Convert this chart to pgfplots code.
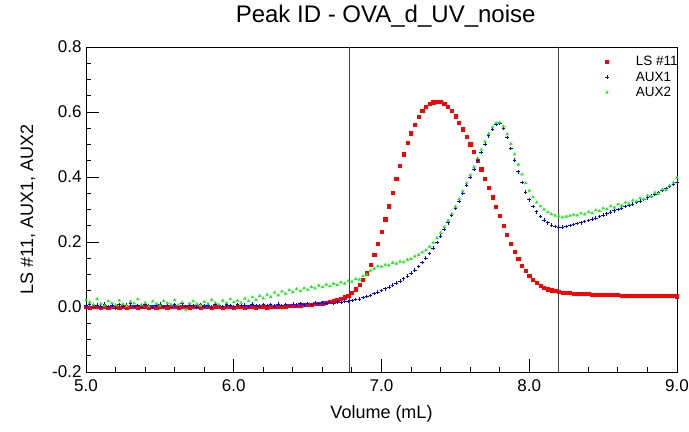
\documentclass[border=0pt]{standalone}
\usepackage{pgfplots}
\pgfplotsset{compat=1.18}
\usepackage{pgfplotstable}
\usepackage{fontspec}
\setmainfont{Liberation Sans}
\pgfplotstableread{
x ls aux1 aux2
5.000 0.001 0.004 0.022
5.025 -0.002 0.008 0.015
5.050 0.000 -0.002 0.008
5.075 0.002 0.006 0.025
5.100 -0.001 0.003 0.010
5.125 0.001 0.009 0.004
5.150 -0.003 0.001 0.018
5.175 0.000 0.005 0.012
5.200 0.002 -0.003 0.006
5.225 -0.001 0.007 0.020
5.250 0.001 0.002 0.009
5.275 -0.002 0.006 0.003
5.300 0.000 0.010 0.016
5.325 0.001 0.001 0.011
5.350 -0.002 0.005 0.024
5.375 0.000 -0.001 0.007
5.400 0.002 0.008 0.013
5.425 -0.001 0.004 0.002
5.450 0.001 0.000 0.017
5.475 -0.002 0.006 0.010
5.500 0.000 0.009 0.005
5.525 0.002 0.002 0.019
5.550 -0.001 0.005 0.012
5.575 0.000 -0.002 0.008
5.600 0.001 0.007 0.021
5.625 -0.002 0.003 0.006
5.650 0.000 0.010 0.014
5.675 0.002 0.001 -0.008
5.700 -0.001 0.006 0.011
5.725 0.000 0.004 0.018
5.750 0.001 -0.001 0.009
5.775 -0.002 0.008 0.004
5.800 0.000 0.003 0.016
5.825 0.002 0.006 0.010
5.850 -0.001 0.000 0.022
5.875 0.000 0.009 0.013
5.900 0.001 0.004 0.007
5.925 -0.002 0.002 0.019
5.950 0.000 0.007 0.012
5.975 0.002 0.005 0.024
6.000 -0.001 0.001 0.015
6.025 0.000 0.008 0.020
6.050 0.001 0.004 0.013
6.075 -0.002 0.006 0.026
6.100 0.000 0.002 0.018
6.125 0.002 0.009 0.030
6.150 -0.001 0.005 0.022
6.175 0.000 0.003 0.034
6.200 0.001 0.007 0.027
6.225 -0.001 0.004 0.038
6.250 0.001 0.008 0.031
6.275 0.000 0.003 0.044
6.300 0.002 0.009 0.036
6.325 0.001 0.005 0.048
6.350 0.002 0.007 0.041
6.375 0.003 0.004 0.052
6.400 0.003 0.009 0.046
6.425 0.004 0.006 0.055
6.450 0.005 0.010 0.049
6.475 0.006 0.007 0.058
6.500 0.007 0.011 0.053
6.525 0.008 0.008 0.062
6.550 0.009 0.012 0.057
6.575 0.011 0.010 0.066
6.600 0.012 0.013 0.061
6.625 0.014 0.011 0.069
6.650 0.016 0.014 0.064
6.675 0.018 0.012 0.072
6.700 0.021 0.016 0.068
6.725 0.025 0.014 0.076
6.750 0.030 0.018 0.072
6.775 0.036 0.017 0.080
6.800 0.044 0.020 0.078
6.825 0.055 0.023 0.086
6.850 0.068 0.025 0.084
6.875 0.084 0.029 0.095
6.900 0.104 0.032 0.100
6.925 0.130 0.036 0.112
6.950 0.160 0.041 0.118
6.975 0.195 0.046 0.126
7.000 0.232 0.051 0.124
7.025 0.270 0.056 0.130
7.050 0.310 0.061 0.128
7.075 0.352 0.067 0.136
7.100 0.395 0.073 0.133
7.125 0.435 0.080 0.140
7.150 0.470 0.087 0.138
7.175 0.505 0.095 0.146
7.200 0.535 0.104 0.148
7.225 0.562 0.114 0.156
7.250 0.585 0.125 0.160
7.275 0.603 0.137 0.168
7.300 0.616 0.150 0.175
7.325 0.625 0.165 0.186
7.350 0.630 0.181 0.198
7.375 0.632 0.199 0.212
7.400 0.631 0.218 0.228
7.425 0.626 0.238 0.246
7.450 0.617 0.259 0.266
7.475 0.603 0.281 0.287
7.500 0.587 0.303 0.309
7.525 0.568 0.326 0.332
7.550 0.547 0.350 0.356
7.575 0.525 0.374 0.381
7.600 0.501 0.399 0.406
7.625 0.477 0.424 0.432
7.650 0.451 0.450 0.458
7.675 0.424 0.476 0.484
7.700 0.396 0.502 0.509
7.725 0.367 0.527 0.533
7.750 0.338 0.548 0.553
7.775 0.309 0.563 0.566
7.800 0.280 0.565 0.568
7.825 0.251 0.550 0.556
7.850 0.223 0.522 0.532
7.875 0.196 0.488 0.502
7.900 0.171 0.452 0.470
7.925 0.148 0.416 0.438
7.950 0.128 0.383 0.408
7.975 0.111 0.354 0.381
8.000 0.096 0.330 0.358
8.025 0.084 0.309 0.338
8.050 0.074 0.293 0.322
8.075 0.066 0.279 0.310
8.100 0.060 0.268 0.300
8.125 0.055 0.259 0.292
8.150 0.052 0.252 0.286
8.175 0.049 0.248 0.281
8.200 0.047 0.246 0.279
8.225 0.045 0.246 0.276
8.250 0.044 0.248 0.278
8.275 0.043 0.251 0.281
8.300 0.042 0.254 0.284
8.325 0.041 0.257 0.282
8.350 0.041 0.259 0.288
8.375 0.040 0.263 0.285
8.400 0.040 0.266 0.292
8.425 0.039 0.270 0.289
8.450 0.039 0.274 0.298
8.475 0.038 0.279 0.295
8.500 0.038 0.283 0.304
8.525 0.038 0.287 0.301
8.550 0.037 0.292 0.310
8.575 0.037 0.296 0.306
8.600 0.037 0.300 0.316
8.625 0.036 0.304 0.312
8.650 0.036 0.309 0.322
8.675 0.036 0.313 0.318
8.700 0.036 0.317 0.328
8.725 0.035 0.322 0.325
8.750 0.035 0.326 0.335
8.775 0.035 0.331 0.332
8.800 0.035 0.336 0.343
8.825 0.035 0.341 0.340
8.850 0.034 0.346 0.352
8.875 0.034 0.352 0.349
8.900 0.034 0.358 0.362
8.925 0.034 0.364 0.360
8.950 0.034 0.371 0.374
8.975 0.034 0.378 0.383
9.000 0.033 0.385 0.398
}\datatable
\definecolor{lsred}{RGB}{255,0,0}
\definecolor{auxblue}{RGB}{0,0,255}
\definecolor{auxgreen}{RGB}{0,255,0}
\begin{document}
\begin{tikzpicture}
\begin{axis}[
  scale only axis,
  width=591pt, height=325pt,
  xmin=5, xmax=9, ymin=-0.2, ymax=0.8,
  xtick={5,6,7,8,9}, xticklabels={5.0,6.0,7.0,8.0,9.0},
  ytick={-0.2,0,0.2,0.4,0.6,0.8}, yticklabels={-0.2,0.0,0.2,0.4,0.6,0.8},
  minor x tick num=4, minor y tick num=3,
  tick align=inside, xtick pos=bottom, ytick pos=left,
  major tick length=13pt, minor tick length=5pt,
  tick style={black, line width=1pt},
  axis line style={line width=1pt},
  ticklabel style={font=\fontsize{17}{20}\selectfont},
  xticklabel style={yshift=-4pt},
  yticklabel style={xshift=-1pt},
  xlabel={Volume (mL)}, ylabel={LS \#11, AUX1, AUX2},
  label style={font=\fontsize{18}{21}\selectfont},
  xlabel style={at={(rel axis cs:0.5,-0.13)}, anchor=center},
  ylabel style={at={(rel axis cs:-0.098,0.5)}, anchor=center},
  title={Peak ID - OVA\_d\_UV\_noise},
  title style={font=\fontsize{24}{28}\selectfont, at={(rel axis cs:0.507,1.075)}, anchor=center},
  legend style={draw=none, fill=none, at={(rel axis cs:0.876,0.975)}, anchor=north west,
    font=\fontsize{13.5}{15}\selectfont, row sep=2.5pt, legend cell align=left,
    inner sep=0pt, nodes={inner sep=1pt}},
  legend image code/.code={\draw[#1] plot coordinates {(0pt,0pt)}; \path[draw=none,fill=none] (-3pt,0pt) (28pt,0pt);},
]
\addplot[forget plot, black!75, line width=0.8pt] coordinates {(6.78,-0.2) (6.78,0.8)};
\addplot[forget plot, black!75, line width=0.8pt] coordinates {(8.2,-0.2) (8.2,0.8)};
\addplot[only marks, mark=square*, mark size=1.6pt, color=lsred] table[x=x,y=ls] {\datatable};
\addplot[only marks, mark=+, mark size=1.8pt, color=auxblue, line width=0.7pt] table[x=x,y=aux1] {\datatable};
\addplot[only marks, mark=triangle*, mark size=1.5pt, color=auxgreen] table[x=x,y=aux2] {\datatable};
\legend{LS \#11, AUX1, AUX2}
\coordinate (sw) at (rel axis cs:0,0);
\coordinate (ne) at (rel axis cs:1,1);
\end{axis}
\pgfresetboundingbox
\path[use as bounding box] ([shift={(-86pt,-59pt)}]sw) rectangle ([shift={(12pt,47pt)}]ne);
\end{tikzpicture}
\end{document}
